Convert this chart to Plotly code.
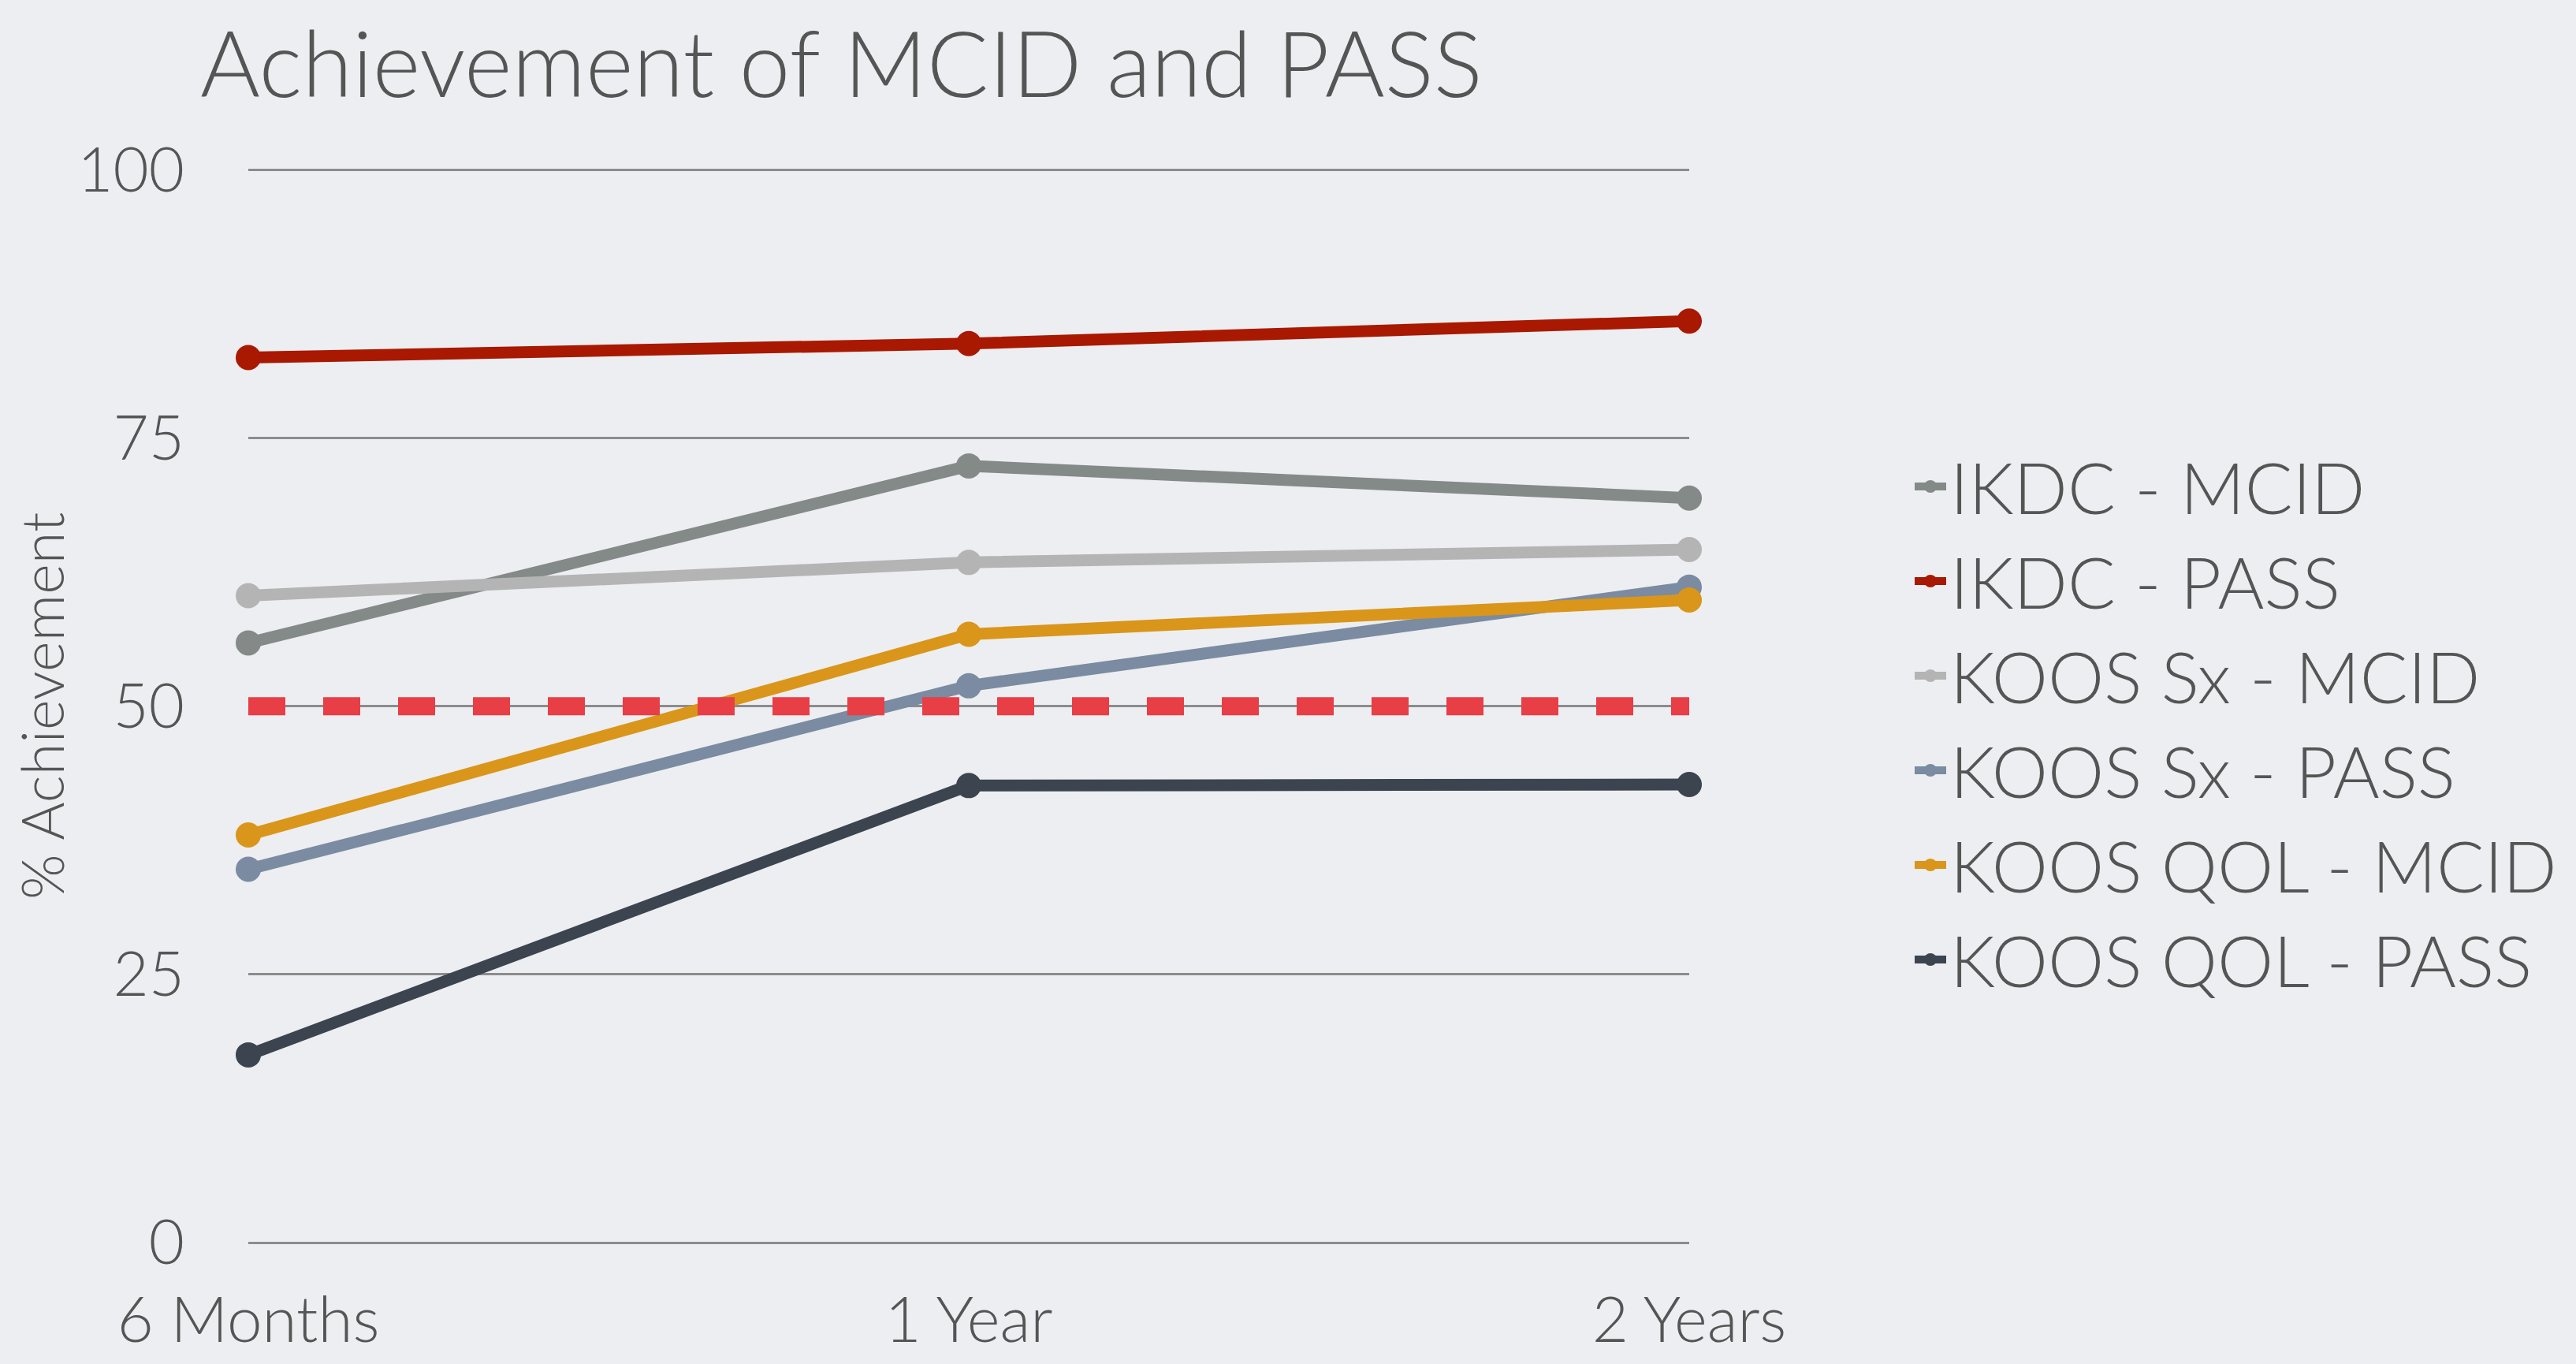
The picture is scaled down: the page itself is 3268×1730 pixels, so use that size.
import plotly.graph_objects as go

categories = ["6 Months", "1 Year", "2 Years"]
series_names = ["IKDC - MCID", "IKDC - PASS", "KOOS Sx - MCID",
                "KOOS Sx - PASS", "KOOS QOL - MCID", "KOOS QOL - PASS"]
ikdc_mcid = [55.9, 72.4, 69.4]
ikdc_pass = [82.5, 83.8, 85.9]
koos_sx_mcid = [60.3, 63.4, 64.6]
koos_sx_pass = [34.8, 51.9, 61.1]
koos_qol_mcid = [38.0, 56.7, 59.9]
koos_qol_pass = [17.5, 42.6, 42.7]
threshold = [50, 50, 50]
y_ticks = [0, 25, 50, 75, 100]

colors = ["#848A87", "#A91800", "#B4B4B4", "#7A8BA2", "#D9961A", "#3C4450"]
values = [ikdc_mcid, ikdc_pass, koos_sx_mcid, koos_sx_pass, koos_qol_mcid, koos_qol_pass]

FONT = "Lato"
TXT = "#555555"

W, H = 3268, 1730
L, R, T, B = 315, 3268 - 2143, 214, 1730 - 1576

fig = go.Figure()
for name, vals, col in zip(series_names, values, colors):
    fig.add_trace(go.Scatter(
        x=categories, y=vals, name=name, mode="lines+markers",
        line=dict(color=col, width=15),
        marker=dict(color=col, size=32),
        cliponaxis=False,
    ))

fig.add_trace(go.Scatter(
    x=categories, y=threshold, mode="lines", showlegend=False,
    line=dict(color="#E83E46", width=23, dash="47px,48px"),
    hoverinfo="skip", cliponaxis=False,
))

pw = W - L - R
ph = H - T - B

fig.update_layout(
    width=W, height=H,
    margin=dict(l=L, r=R, t=T, b=B, autoexpand=False),
    paper_bgcolor="#EDEEF1", plot_bgcolor="rgba(0,0,0,0)",
    font=dict(family=FONT, color=TXT),
    title=dict(text="Achievement of MCID and PASS", xref="container", yref="container",
               x=254 / W, xanchor="left", y=1 - 82 / H, yanchor="middle",
               font=dict(family=FONT, size=116, color=TXT, weight=300)),
    xaxis=dict(range=[0, 2], showgrid=False, zeroline=False, showline=False,
               tickfont=dict(family=FONT, size=80, color=TXT, weight=300),
               ticks="", ticklabelstandoff=45, fixedrange=True),
    yaxis=dict(range=[0, 100.1], tickvals=y_ticks, showgrid=True, gridcolor="#8C8C8C",
               gridwidth=3, zeroline=True, zerolinecolor="#8C8C8C", zerolinewidth=3,
               showline=False, ticks="",
               tickfont=dict(family=FONT, size=78, color=TXT, weight=300),
               ticklabelstandoff=80),
    legend=dict(x=(2424 - L) / pw, xanchor="left", y=(1576 - 552) / ph, yanchor="top",
                font=dict(family=FONT, size=90, color=TXT, weight=300),
                bgcolor="rgba(0,0,0,0)", itemwidth=40, tracegroupgap=0),
    annotations=[dict(text="% Achievement", xref="paper", yref="paper",
                      x=(52 - L) / pw, y=(1576 - 896) / ph, xanchor="center", yanchor="middle",
                      textangle=-90, showarrow=False,
                      font=dict(family=FONT, size=74, color=TXT, weight=300))],
    showlegend=True,
)

fig.write_html("out.html")
